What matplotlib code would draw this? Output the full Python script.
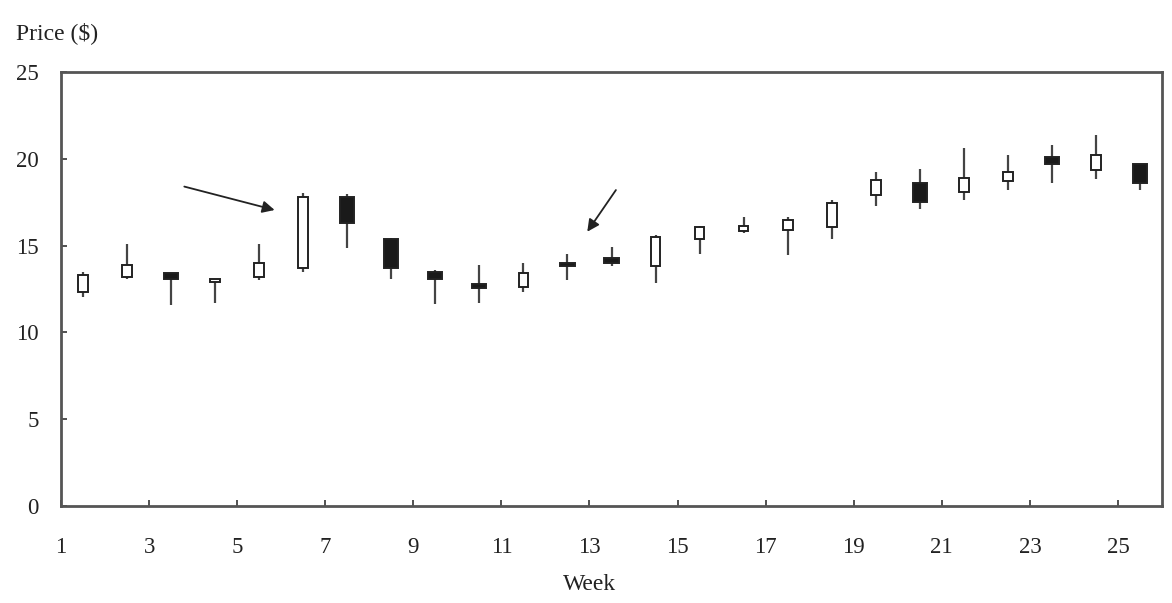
import matplotlib
matplotlib.use("Agg")
import matplotlib.pyplot as plt
from matplotlib.patches import Rectangle

weeks = [1.5, 2.5, 3.5, 4.5, 5.5, 6.5, 7.5, 8.5, 9.5, 10.5, 11.5, 12.5, 13.5,
         14.5, 15.5, 16.5, 17.5, 18.5, 19.5, 20.5, 21.5, 22.5, 23.5, 24.5, 25.5]
open_ = [12.3, 13.2, 13.4, 12.9, 13.2, 13.7, 17.8, 15.4, 13.5, 12.8, 12.6, 14.0, 14.3,
         13.8, 15.4, 15.85, 15.9, 16.1, 17.9, 18.6, 18.1, 18.7, 20.1, 19.35, 19.7]
close = [13.3, 13.9, 13.1, 13.05, 14.0, 17.8, 16.3, 13.7, 13.1, 12.55, 13.4, 13.8, 14.0,
         15.5, 16.05, 16.15, 16.5, 17.45, 18.8, 17.5, 18.9, 19.25, 19.7, 20.2, 18.6]
high = [13.5, 15.1, 13.45, 13.1, 15.1, 18.05, 17.95, 15.45, 13.6, 13.9, 14.0, 14.5, 14.9,
        15.6, 16.15, 16.65, 16.65, 17.65, 19.25, 19.4, 20.6, 20.2, 20.8, 21.35, 19.7]
low = [12.05, 13.1, 11.55, 11.7, 13.0, 13.5, 14.85, 13.05, 11.65, 11.7, 12.3, 13.0, 13.8,
       12.85, 14.5, 15.75, 14.45, 15.4, 17.3, 17.1, 17.65, 18.2, 18.6, 18.85, 18.2]

x_ticks = list(range(1, 26, 2))
y_ticks = [0, 5, 10, 15, 20, 25]

arrow_tails = [(3.8, 18.4), (13.6, 18.2)]
arrow_heads = [(5.85, 17.05), (12.95, 15.8)]

plt.rcParams['font.family'] = ['Liberation Serif', 'DejaVu Serif']

fig = plt.figure(figsize=(11.72, 6.03), dpi=100)
ax = fig.add_axes([61/1172, (603-506)/603, (1162-61)/1172, (506-72)/603])

line_c = '#222222'
for x, o, c, h, l in zip(weeks, open_, close, high, low):
    up = c >= o
    w = 0.22 if up else 0.32
    bottom, top = min(o, c), max(o, c)
    ax.plot([x, x], [top, h], color='#444444', lw=1.6, zorder=2, solid_capstyle='butt')
    ax.plot([x, x], [l, bottom], color='#444444', lw=1.6, zorder=2, solid_capstyle='butt')
    ax.add_patch(Rectangle((x - w / 2, bottom), w, top - bottom,
                           facecolor='white' if up else '#1a1a1a',
                           edgecolor=line_c, lw=1.4, zorder=3))

for (tx, ty), (hx, hy) in zip(arrow_tails, arrow_heads):
    ax.annotate('', xy=(hx, hy), xytext=(tx, ty),
                arrowprops=dict(arrowstyle='-|>', color='#222222', lw=1.3,
                                mutation_scale=18, shrinkA=0, shrinkB=0))

ax.set_xlim(1, 26)
ax.set_ylim(0, 25)
ax.set_xticks(x_ticks)
ax.set_yticks(y_ticks)
ax.tick_params(direction='in', length=4, width=1.2, colors='#333333',
               labelsize=16.5, labelcolor='#222222')
ax.tick_params(axis='x', pad=22)
ax.tick_params(axis='y', pad=16)
for s in ax.spines.values():
    s.set_color('#555555')
    s.set_linewidth(2)

fig.text(16/1172, 1 - 33/603, 'Price ($)', fontsize=17, ha='left', va='center', color='#222222')
fig.text(590/1172, 1 - 585/603, 'Week', fontsize=17, ha='center', va='center', color='#222222')

fig.savefig('out.png', dpi=100, facecolor='white')
